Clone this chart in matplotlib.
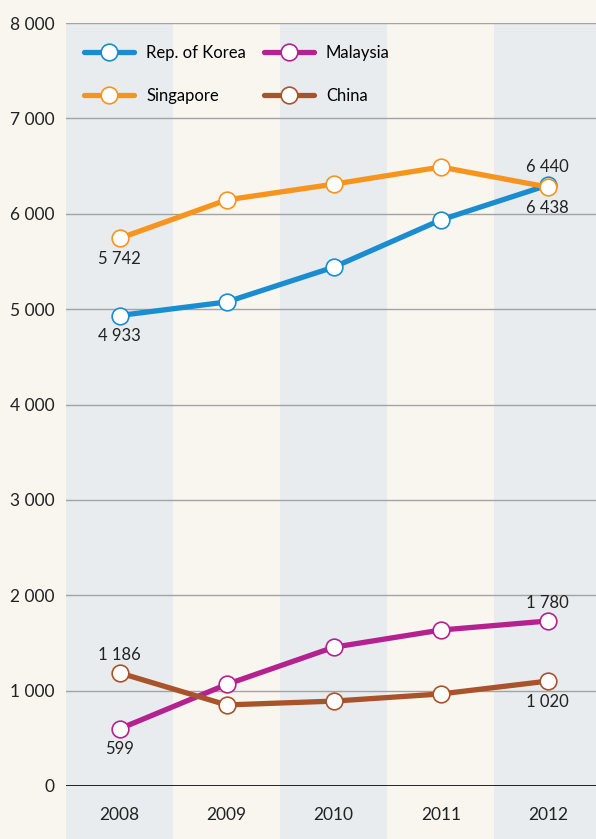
import matplotlib.pyplot as plt
from matplotlib.ticker import FuncFormatter

plt.rcParams['font.family'] = ['Lato', 'DejaVu Sans']

years = ['2008', '2009', '2010', '2011', '2012']
korea = [4933, 5075, 5440, 5935, 6300]
singapore = [5742, 6145, 6310, 6490, 6280]
malaysia = [599, 1065, 1455, 1635, 1730]
china = [1186, 850, 890, 965, 1100]

# text labels as printed on the chart
labels = [
    (0, 4933, '4 933', 'below'),
    (0, 5742, '5 742', 'below'),
    (4, 6300, '6 440', 'above'),
    (4, 6280, '6 438', 'below'),
    (0, 1186, '1 186', 'above'),
    (0, 599, '599', 'below'),
    (4, 1730, '1 780', 'above'),
    (4, 1100, '1 020', 'below'),
]

bg = '#f9f6f0'
band = '#e8ecef'
colors = {'Rep. of Korea': '#1a8dd0', 'Singapore': '#f7941d',
          'Malaysia': '#b5218f', 'China': '#a9532a'}

fig = plt.figure(figsize=(5.96, 8.39), dpi=100, facecolor=bg)
ax = fig.add_axes([66 / 596, 1 - 786 / 839, 530 / 596, 763 / 839])
ax.set_facecolor(bg)

x = list(range(len(years)))
for i in x:
    if i % 2 == 0:
        ax.axvspan(i - 0.5, i + 0.5, ymin=-0.07, ymax=1, color=band,
                   zorder=0, clip_on=False, lw=0)

for v in range(1000, 8001, 1000):
    ax.axhline(v, color='#a3a3a3', lw=1, zorder=1)
ax.axhline(0, color='black', lw=1.2, zorder=1)

series = [('Rep. of Korea', korea), ('Singapore', singapore),
          ('Malaysia', malaysia), ('China', china)]
for name, vals in series:
    ax.plot(x, vals, color=colors[name], lw=3.8, marker='o', ms=12,
            mfc='white', mec=colors[name], mew=1.2, label=name, zorder=3,
            solid_capstyle='round', clip_on=False)

for i, v, t, pos in labels:
    off = 7 if pos == 'above' else -9
    ax.annotate(t, (i, v), xytext=(0, off), textcoords='offset points',
                ha='center', va='bottom' if pos == 'above' else 'top',
                fontsize=12, color='#222222')

ax.set_xlim(-0.5, 4.45)
ax.set_ylim(0, 8000)
ax.set_yticks(range(0, 8001, 1000))
ax.yaxis.set_major_formatter(FuncFormatter(lambda v, p: f'{int(v):,}'.replace(',', ' ')))
ax.set_xticks(x)
ax.set_xticklabels(years)
ax.tick_params(length=0, labelsize=12.5, colors='#222222')
ax.tick_params(axis='x', pad=15)
ax.tick_params(axis='y', pad=8)
for s in ax.spines.values():
    s.set_visible(False)

leg = ax.legend(loc='upper left', bbox_to_anchor=(0.019, 0.982), ncol=2,
                frameon=False, fontsize=12, handlelength=3,
                handletextpad=0.7, columnspacing=1.1, labelspacing=1.6,
                borderpad=0)

fig.savefig('out.png', dpi=100, facecolor=bg)
